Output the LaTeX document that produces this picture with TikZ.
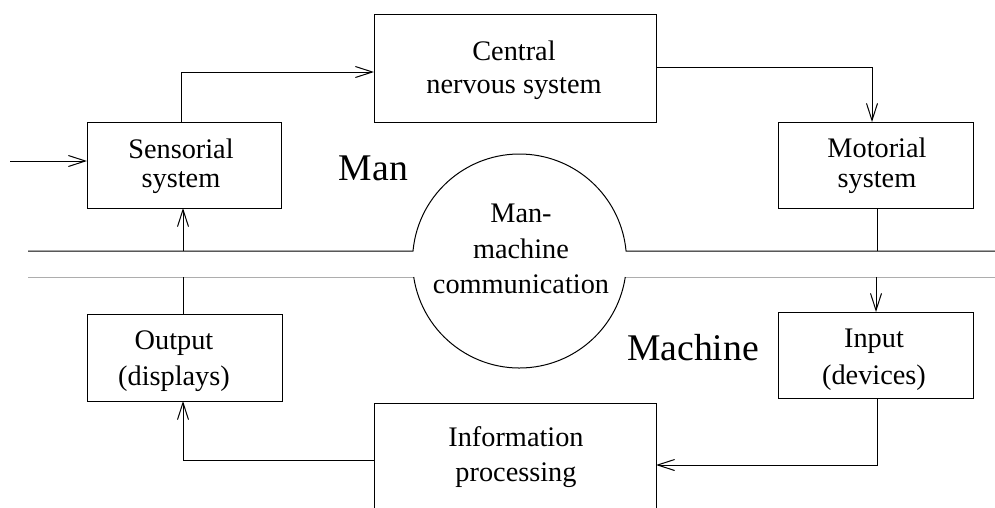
\documentclass[tikz,border=0pt]{standalone}
\usepackage{fontspec}
\setmainfont{Liberation Serif}
\usetikzlibrary{arrows.meta}
\begin{document}
\begin{tikzpicture}[x=1pt,y=-1pt,
  line width=1pt,
  box/.style={draw, rectangle, inner sep=0pt, outer sep=0pt},
  lbl/.style={align=center, inner sep=0pt, font=\fontsize{28.3}{#1}\selectfont},
  big/.style={inner sep=0pt, anchor=base, font=\fontsize{37.7}{40}\selectfont},
  arr/.style={-{Straight Barb[length=17pt,width=11pt]}},
  sepline/.style={draw=black!32, line width=1pt}]
\useasboundingbox (0,0) rectangle (995,507);
\begin{scope}
\clip (0,0) rectangle (995,507);

% boxes
\node[box, minimum width=194pt, minimum height=86pt]  (sens)  at (184,165)   {};
\node[box, minimum width=282pt, minimum height=108pt] (cns)   at (515,68)    {};
\node[box, minimum width=195pt, minimum height=86pt]  (motor) at (875.5,165) {};
\node[box, minimum width=195pt, minimum height=87pt]  (outp)  at (184.5,357.5) {};
\node[box, minimum width=195pt, minimum height=86pt]  (inp)   at (875.5,355) {};
\node[box, minimum width=282pt, minimum height=108pt] (info)  at (515,457)   {};

% box texts
\node[lbl=29]   (sens-t)  at (181,165.9)  {Sensorial\\system};
\node[lbl=33]   (cns-t)   at (514,69.9)   {Central\\nervous system};
\node[lbl=30]   (motor-t) at (877,165.4)  {Motorial\\system};
\node[lbl=35.5] (outp-t)  at (174,361.3)  {Output\\(displays)};
\node[lbl=37]   (inp-t)   at (874,359.8)  {Input\\(devices)};
\node[lbl=35]   (info-t)  at (516,456.9)  {Information\\processing};

% region labels
\node[big] (man)  at (373.5,180) {Man};
\node[big] (mach) at (693,360)   {Machine};

% man / machine boundary with the communication circle
\coordinate (bl) at (28,251);
\coordinate (br) at (995,251);
\coordinate (gl) at (28,277);
\coordinate (gr) at (995,277);
\draw (bl) -- (413,251) arc[start angle=174.64, end angle=5.36, radius=107pt] -- (br);
\draw[sepline] (gl) -- (413.7,277);
\draw[sepline] (625.3,277) -- (gr);
\draw (413.7,277) arc[start angle=188.6, end angle=351.4, radius=107pt];
\node[lbl=35.5] (mmc) at (521,249.2) {Man-\\machine\\communication};

% signal flow
\coordinate (stim) at (10,161);
\draw[arr] (stim) -- (stim -| sens.west);

\coordinate (s-up) at (181,72);
\draw[arr] (s-up |- sens.north) -- (s-up) -- (s-up -| cns.west);

\coordinate (c-out) at (872,67);
\draw[arr] (c-out -| cns.east) -- (c-out) -- (c-out |- motor.north);

\coordinate (m-down) at (877,251);
\draw (m-down |- motor.south) -- (m-down);

\coordinate (i-in) at (876,277);
\draw[arr] (i-in) -- (i-in |- inp.north);

\coordinate (i-down) at (877,465);
\draw[arr] (i-down |- inp.south) -- (i-down) -- (i-down -| info.east);

\coordinate (p-out) at (183,460);
\draw[arr] (p-out -| info.west) -- (p-out) -- (p-out |- outp.south);

\coordinate (o-up) at (183,277);
\draw (o-up |- outp.north) -- (o-up);

\coordinate (s-in) at (183,251);
\draw[arr] (s-in) -- (s-in |- sens.south);
\end{scope}
\end{tikzpicture}
\end{document}
